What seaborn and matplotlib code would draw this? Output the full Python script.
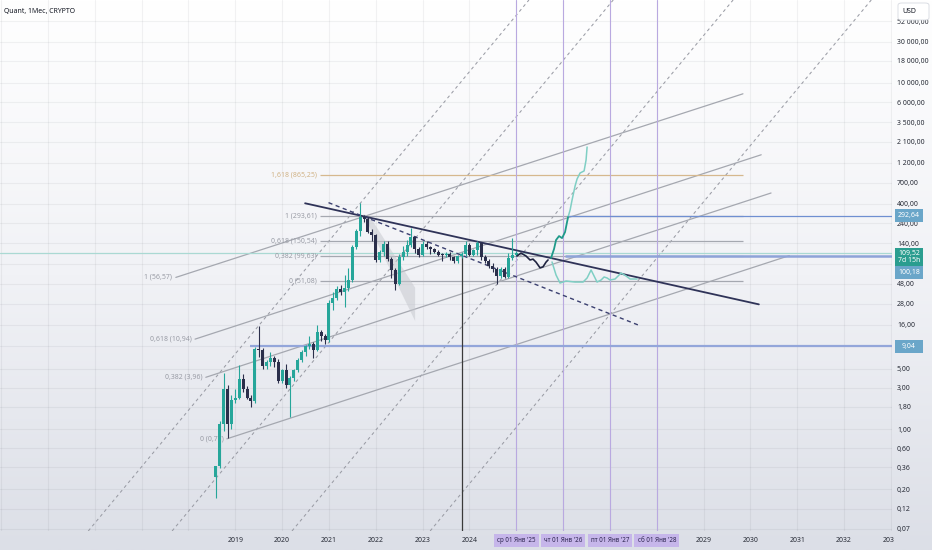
import numpy as np
import pandas as pd
import matplotlib
matplotlib.use("Agg")
import matplotlib.pyplot as plt
from matplotlib.patches import Rectangle, Polygon, FancyBboxPatch
from matplotlib.colors import LinearSegmentedColormap
from matplotlib.ticker import NullLocator
import seaborn as sns

# Quant (QNT) monthly candles, Aug 2018 .. Jan 2025
opens = [0.28, 0.37, 1.14, 2.9, 1.14,
         2.16, 2.3, 3.8, 2.9, 2.3, 2.1, 8.5, 8.1, 5.3, 6.0, 6.7, 6.0,
         3.6, 4.8, 3.2, 3.9, 4.8, 6.3, 7.8, 9.0, 9.6, 8.2, 13.3, 11.9,
         10.7, 29, 33, 41, 38, 43, 53, 128, 195, 285, 268, 191,
         175, 90, 112, 138, 92, 69, 48, 98, 110, 134, 165, 120,
         103, 138, 127, 120, 111, 104, 102, 106, 98, 88, 101, 106,
         134, 104, 116, 140, 98, 88, 76, 70, 58, 71, 57, 96,
         104]
highs = [0.37, 1.25, 4.4, 3.2, 2.5,
         2.9, 5.5, 4.3, 3.1, 2.5, 8.8, 15.5, 8.6, 6.3, 7.8, 7.0, 6.4,
         5.0, 5.6, 4.1, 5.0, 6.6, 8.2, 9.4, 11.8, 10.2, 16.0, 14.0, 12.5,
         31, 38, 45, 46, 60, 72, 135, 205, 410, 300, 280, 205,
         180, 118, 150, 150, 98, 72, 105, 130, 155, 209, 172, 126,
         150, 150, 132, 125, 116, 108, 112, 110, 100, 104, 112, 149,
         140, 120, 150, 145, 104, 92, 82, 74, 74, 74, 108, 163,
         114]
lows = [0.16, 0.35, 0.95, 0.78, 1.0,
        2.0, 2.2, 2.7, 2.2, 1.78, 2.0, 6.8, 4.9, 4.9, 5.4, 5.2, 3.4,
        3.4, 3.0, 1.38, 3.6, 4.6, 6.0, 7.0, 8.4, 6.6, 8.0, 10.5, 9.6,
        10.2, 24, 31, 35, 26, 39, 50, 120, 170, 250, 185, 150,
        85, 85, 100, 88, 55, 40, 46, 90, 100, 128, 108, 98,
        100, 122, 105, 108, 100, 88, 98, 90, 84, 82, 96, 100,
        100, 100, 104, 90, 84, 72, 66, 48, 56, 55, 55, 90,
        100]
closes = [0.37, 1.14, 2.9, 1.14, 2.16,
          2.3, 3.8, 2.9, 2.3, 2.1, 8.5, 8.1, 5.3, 6.0, 6.7, 6.0, 3.6,
          4.8, 3.2, 3.9, 4.8, 6.3, 7.8, 9.0, 9.6, 8.2, 13.3, 11.9, 10.7,
          29, 33, 41, 38, 43, 53, 128, 195, 285, 268, 191, 175,
          90, 112, 138, 92, 69, 48, 98, 110, 134, 165, 120, 103,
          138, 127, 120, 111, 104, 102, 106, 98, 88, 101, 106, 134,
          104, 116, 140, 98, 88, 76, 70, 58, 71, 57, 96, 104,
          109.52]

# price scale
grid_prices = [52000, 30000, 18000, 10000, 6000, 3500, 2100, 1200, 700, 400,
               240, 140, 80, 48, 28, 16, 9, 5, 3, 1.8, 1, 0.6, 0.36, 0.2, 0.12, 0.07]
hidden_prices = [80, 9]
year_ticks = [2019, 2020, 2021, 2022, 2023, 2024, 2029, 2030, 2031, 2032]
date_years = [2025, 2026, 2027, 2028]
date_labels = ["ср 01 Янв '25", "чт 01 Янв '26", "пт 01 Янв '27", "сб 01 Янв '28"]

# fib retracement
fib_levels = [865.25, 293.61, 150.54, 99.63, 51.08]
fib_names = ["1,618", "1", "0,618", "0,382", "0"]
fib_span = [2020.81, 2029.84]

# fib channel (start date/price -> end date/price)
chan_names = ["1", "0,618", "0,382", "0"]
chan_x0 = [2017.73, 2018.14, 2018.37, 2018.82]
chan_p0 = [56.57, 10.94, 3.96, 0.77]
chan_x1 = [2029.84, 2030.23, 2030.44, 2030.83]
chan_p1 = [7500, 1480, 535, 101]

# steep dashed rays
steep_x0 = [2015.86, 2017.65, 2020.21, 2023.16]
steep_x1 = [2025.27, 2027.07, 2029.63, 2032.58]
steep_p = [0.0662, 91100]

# downtrend lines
trend_x = [2020.49, 2030.18]
trend_p = [407, 27.6]
trend2_x = [2020.99, 2027.66]
trend2_p = [414, 15.5]

# shaded projection band
shade_x = [2021.73, 2021.88, 2022.84, 2022.84]
shade_p = [306, 282, 43, 17.7]

# hand-drawn scenarios
wave_x = [2025.015, 2025.101, 2025.208, 2025.293, 2025.357, 2025.421, 2025.507, 2025.571, 2025.635, 2025.678]
wave_p = [100, 108, 100, 90, 92, 85, 73, 75, 85, 90]
bull_x = [2025.742, 2025.806, 2025.849, 2025.913, 2025.977, 2026.041, 2026.084, 2026.106]
bull_p = [94.8, 120.5, 153, 170, 161, 189, 247, 282]
bull2_x = [2026.106, 2026.149, 2026.191, 2026.255, 2026.298, 2026.362, 2026.448, 2026.490, 2026.512]
bull2_p = [282, 340, 444, 644, 777, 911, 962, 1288, 1820]
bear_x = [2025.763, 2025.849, 2025.934, 2026.063, 2026.255, 2026.426, 2026.512, 2026.597, 2026.661, 2026.725,
          2026.811, 2026.875, 2026.939, 2027.003, 2027.110, 2027.238, 2027.345, 2027.430, 2027.580]
bear_p = [85.3, 60.3, 48.7, 51.4, 50.0, 50.0, 55.7, 68.9, 58.7, 50.0,
          52.8, 57.2, 55.7, 52.8, 54.2, 63.6, 58.7, 54.2, 54.2]

last_price = 109.52
level_lines = [292.64, 100.18, 9.04]
level_start = [2026.09, 2026.03, 2019.31]
vline_x, vline_top = 2023.84, 99.63

GREEN = "#26a69a"
DARK = "#2b2f4b"


def ru(v):
    return f"{v:,.2f}".replace(",", " ").replace(".", ",")


sns.set_theme(style="white")
plt.rcParams["font.family"] = ["Noto Sans", "DejaVu Sans"]

W, H = 932, 550
fig = plt.figure(figsize=(W / 100, H / 100), dpi=100)

# TradingView-like background gradient
bg = fig.add_axes([0, 0, 1, 1], zorder=-10)
grad = np.linspace(0, 1, 256).reshape(-1, 1)
bg_cmap = LinearSegmentedColormap.from_list("tv", ["#ffffff", "#f1f2f6", "#dcdfe7"])
bg.imshow(grad, aspect="auto", cmap=bg_cmap, extent=[0, 1, 0, 1])
bg.set_axis_off()

ax = fig.add_axes([0, 19 / H, 892 / W, 531 / H])
ax.patch.set_alpha(0)
ax.set_yscale("log")
XL = (2013.975, 2033.023)
YL = (0.0662, 91100)
ax.set_xlim(XL)
ax.set_ylim(YL)
for s in ax.spines.values():
    s.set_visible(False)

# grid
for p in grid_prices:
    ax.axhline(p, color="#2a2e39", alpha=0.06, lw=0.8, zorder=0)
for yr in range(2014, 2034):
    ax.axvline(yr, color="#2a2e39", alpha=0.06, lw=0.8, zorder=0)

# steep dashed rays
for x0, x1 in zip(steep_x0, steep_x1):
    ax.plot([x0, x1], steep_p, color="#9a9ca5", lw=0.75, ls=(0, (3, 3)), zorder=1)

# fib channel
for name, x0, p0, x1, p1 in zip(chan_names, chan_x0, chan_p0, chan_x1, chan_p1):
    ax.plot([x0, x1], [p0, p1], color="#a5a8b0", lw=0.9, zorder=1)
    ax.annotate(f"{name} ({ru(p0)})", (x0, p0),
                xytext=(-2.5, 0), textcoords="offset points", ha="right", va="center",
                fontsize=5, color="#9a9da6")

# fib retracement
for lvl, name in zip(fib_levels, fib_names):
    col = "#d6b88e" if name == "1,618" else "#a5a8b0"
    ax.hlines(lvl, fib_span[0], fib_span[1], color=col, lw=0.9, zorder=1)
    ax.annotate(f"{name} ({ru(lvl)})", (fib_span[0], lvl), xytext=(-2.5, 0),
                textcoords="offset points", ha="right", va="center", fontsize=5,
                color="#d1b488" if name == "1,618" else "#9a9da6")

# shaded band
ax.add_patch(Polygon(list(zip(shade_x, shade_p)), closed=True, fc="#c4c6cc",
                     ec="none", alpha=0.5, zorder=1))

# horizontal levels
ax.axhline(last_price, color="#aad9d3", lw=0.9, zorder=1)
ax.hlines(level_lines[0], level_start[0], XL[1], color="#6f8fd1", lw=0.9, zorder=2)
ax.hlines(level_lines[1], level_start[1], XL[1], color="#8ea3d8", lw=1.8, zorder=2)
ax.hlines(level_lines[2], level_start[2], XL[1], color="#93a6da", lw=1.6, zorder=2)
ax.vlines(vline_x, YL[0], vline_top, color="#3a3a3a", lw=0.9, zorder=2)

# year separators
for yr in date_years:
    ax.axvline(yr, color="#b9a9e0", lw=0.8, zorder=1)

# trend lines
ax.plot(trend_x, trend_p, color="#2f3358", lw=1.3, zorder=2)
ax.plot(trend2_x, trend2_p, color="#3b4070", lw=1.0, ls=(0, (3, 2.5)), zorder=2)

# candles
months = pd.date_range("2018-08-01", "2025-01-01", freq="MS")
df = pd.DataFrame({"x": months.year + (months.month - 1) / 12,
                   "o": opens, "h": highs, "l": lows, "c": closes})
cols = np.where(df.c >= df.o, GREEN, DARK)
ax.vlines(df.x, df.l, df.h, colors=cols, lw=0.8, zorder=3)
lo = np.minimum(df.o, df.c)
hi = np.maximum(np.maximum(df.o, df.c), lo * 1.03)
ax.bar(df.x, hi - lo, bottom=lo, width=0.064, color=cols, lw=0, zorder=3)

# scenario curves
sns.lineplot(x=bear_x, y=bear_p, ax=ax, color="#7fcfc4", lw=1.1, sort=False, estimator=None, zorder=4)
sns.lineplot(x=bull2_x, y=bull2_p, ax=ax, color="#7fcfc4", lw=1.1, sort=False, estimator=None, zorder=4)
sns.lineplot(x=bull_x, y=bull_p, ax=ax, color="#1f9a8a", lw=1.3, sort=False, estimator=None, zorder=4)
sns.lineplot(x=wave_x, y=wave_p, ax=ax, color="#1f2340", lw=1.2, sort=False, estimator=None, zorder=4)

ax.set_xlim(XL)
ax.set_ylim(YL)

# right price scale
label_prices = [p for p in grid_prices if p not in hidden_prices]
ax.yaxis.tick_right()
ax.set_yticks(label_prices)
ax.set_yticklabels([ru(p) for p in label_prices])
ax.yaxis.set_minor_locator(NullLocator())
ax.tick_params(axis="y", length=0, pad=3.6, labelsize=5, labelcolor="#2a2e39")

# time scale
ax.set_xticks(year_ticks)
ax.set_xticklabels([str(y) for y in year_ticks])
ax.xaxis.set_minor_locator(NullLocator())
ax.tick_params(axis="x", length=0, pad=4, labelsize=5, labelcolor="#2a2e39")
for yr, lab in zip(date_years, date_labels):
    ax.text(yr, -0.0185, lab, transform=ax.get_xaxis_transform(), ha="center", va="center",
            fontsize=4.5, color="#2d2550", clip_on=False,
            bbox=dict(boxstyle="square,pad=0.5", fc="#c6b6ea", ec="none"))
t = ax.text(2033, -0.0185, "2033", transform=ax.get_xaxis_transform(), ha="center",
            va="center", fontsize=5, color="#2a2e39")
t.set_clip_path(Rectangle((0, 0), 894 / W, 1, transform=fig.transFigure))
t.set_clip_on(True)


# price tags on the scale
def tag(val, text, fc, top_off, h):
    y_top = H - ax.transData.transform((2020, val))[1] + top_off
    fig.add_artist(Rectangle((895 / W, 1 - (y_top + h) / H), 28 / W, h / H,
                             transform=fig.transFigure, fc=fc, ec="none", zorder=20))
    fig.text(909 / W, 1 - (y_top + h / 2) / H, text, ha="center", va="center",
             fontsize=5, color="white", zorder=21, linespacing=1.15)


tag(292.64, ru(292.64), "#6aa6c9", -6.5, 13)
tag(last_price, ru(last_price) + "\n7d 15h", "#2a9d8f", -4.5, 18)
tag(100.18, ru(100.18), "#6aa6c9", 10, 13)
tag(9.04, ru(9.04), "#6aa6c9", -6.5, 13)

# currency box + title
fig.add_artist(FancyBboxPatch((898 / W, 1 - 20 / H), 31 / W, 17 / H,
                              boxstyle="round,pad=0,rounding_size=0.004",
                              transform=fig.transFigure, fc="white", ec="#d6d9e0",
                              lw=0.6, zorder=20))
fig.text(902 / W, 1 - 11.5 / H, "USD", ha="left", va="center", fontsize=5,
         color="#131722", zorder=21)
fig.text(4 / W, 1 - 11 / H, "Quant, 1Мес, CRYPTO", ha="left", va="center",
         fontsize=5, color="#131722", fontweight="semibold")

fig.savefig("out.png", dpi=100)
